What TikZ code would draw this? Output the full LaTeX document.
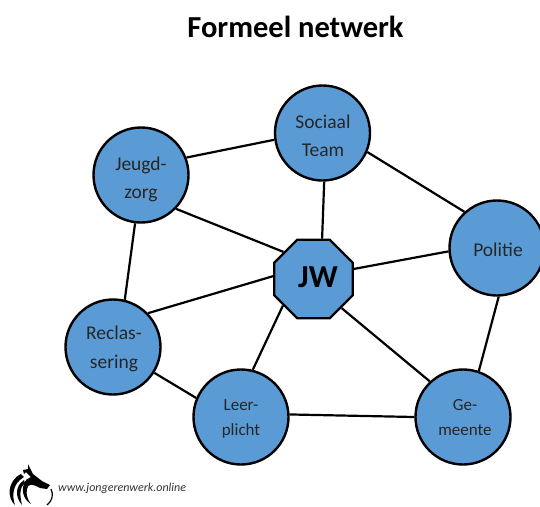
\documentclass[tikz,border=0pt]{standalone}
\usepackage{fontspec}
\setmainfont{Carlito}
\usetikzlibrary{shapes.geometric}
\definecolor{nodeblue}{RGB}{91,155,213}
\tikzset{
  x=1pt,y=-1pt,
  person/.style={circle,draw=black,fill=nodeblue,line width=2.4pt,inner sep=0pt,minimum size=95pt},
  lab/.style={inner sep=0pt,align=center,font=\fontsize{19.5}{28.5}\selectfont,text=black!85},
  smalllab/.style={lab,font=\fontsize{17}{25}\selectfont},
  hub/.style={regular polygon,regular polygon sides=8,draw=black,fill=nodeblue,line width=2.4pt,inner sep=0pt,minimum size=85pt},
  hublab/.style={inner sep=0pt,font=\fontsize{32}{33}\selectfont\bfseries},
  link/.style={draw=black,line width=2.2pt},
  wolf/.style={fill=black,draw=none}
}
\begin{document}
\begin{tikzpicture}
\useasboundingbox (0,0) rectangle (540,506);
\fill[white] (0,0) rectangle (540,506);
\node[font=\fontsize{30.5}{33}\selectfont\bfseries,inner sep=0pt] (title) at (295.5,27) {Formeel netwerk};
\node[person] (sociaal) at (322.5,133) {};
\node[person] (jeugd) at (141,175) {};
\node[person] (politie) at (497,248) {};
\node[person] (reclas) at (113,347) {};
\node[person] (leer) at (241,417) {};
\node[person] (ge) at (463,417) {};
\node[hub] (jw) at (313.5,279) {};
\node[lab] (tsociaal) at (323,136) {Sociaal\\Team};
\node[lab] (tjeugd) at (141,179.5) {Jeugd-\\zorg};
\node[lab] (tpolitie) at (498,250) {Politie};
\node[lab] (treclas) at (114,349) {Reclas-\\sering};
\node[smalllab] (tleer) at (241,418.5) {Leer-\\plicht};
\node[smalllab] (tge) at (465,417.5) {Ge-\\meente};
\node[hublab] (tjw) at (318,277) {JW};
\draw[link] (jeugd.21) -- (sociaal.188);
\draw[link] (sociaal.-23) -- (politie.132);
\draw[link] (sociaal.-88) -- (jw.78);
\draw[link] (jeugd.-44) -- (jw.138);
\draw[link] (jeugd.-97) -- (reclas.76);
\draw[link] (politie.184) -- (jw.14);
\draw[link] (politie.-88) -- (ge.71);
\draw[link] (reclas.44) -- (jw.176);
\draw[link] (reclas.-32) -- (leer.157);
\draw[link] (leer.76) -- (jw.221);
\draw[link] (leer.3) -- (ge.180);
\draw[link] (jw.-46) -- (ge.133);
\node[anchor=west,inner sep=0pt,font=\fontsize{12}{13}\selectfont\itshape,text=black!80] (url) at (58,488) {www.jongerenwerk.online};
% wolf logo
\fill[wolf] (28,464) -- (33,474) -- (42,481) -- (50,485) -- (47,489) -- (40,488) .. controls (33,484) and (28,483) .. (27,489) .. controls (26,494) and (27,499) .. (31,504) .. controls (24,500) and (21,491) .. (24,484) .. controls (25,480) and (28,478) .. (31,477) -- (26,472) -- (24,474) -- (23,470) -- (28,469) -- cycle;
\fill[wolf] (21,474) .. controls (7,481) and (7,498) .. (15,505) .. controls (12,496) and (12,484) .. (24,477) -- cycle;
\fill[wolf] (24,480) .. controls (15,486) and (15,497) .. (22,505) .. controls (20,496) and (19,488) .. (25,483) -- cycle;
\draw[line width=1.2pt] (51,489) .. controls (54,495) and (52,501) .. (47,505);
\end{tikzpicture}
\end{document}
